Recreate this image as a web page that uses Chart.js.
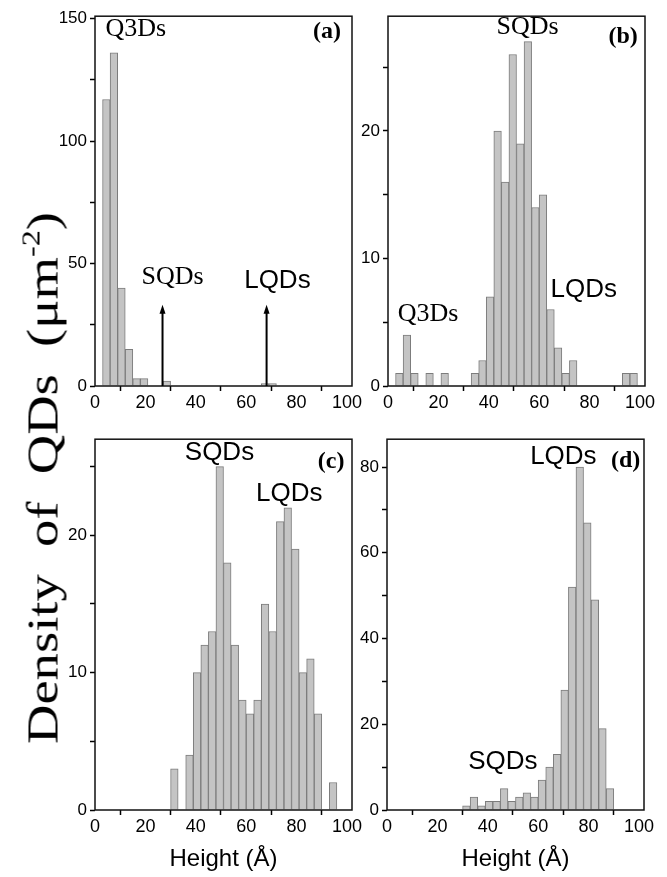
<!DOCTYPE html>
<html><head><meta charset="utf-8">
<script src="https://cdn.jsdelivr.net/npm/chart.js@4.4.0/dist/chart.umd.min.js"></script>
<style>
html,body{margin:0;padding:0;background:#fff;width:667px;height:877px;overflow:hidden;position:relative}
canvas{position:absolute}
#ytitle{position:absolute;left:43px;top:478px;transform:translate(-50%,-50%) rotate(-90deg) scaleX(1.24);white-space:nowrap;font-family:'Liberation Serif',serif;font-size:44px;color:#000;word-spacing:11px}
#ytitle sup{font-size:26px;vertical-align:0;position:relative;top:-18px}
</style></head><body>
<canvas id="ca" width="322" height="413" style="left:50px;top:3px"></canvas>
<canvas id="cb" width="322" height="413" style="left:343px;top:3px"></canvas>
<canvas id="cc" width="322" height="452" style="left:50px;top:426px"></canvas>
<canvas id="cd" width="322" height="452" style="left:342px;top:426px"></canvas>
<div id="ytitle">Density of QDs (μm<sup>-2</sup>)</div>
<script>
// ---- data (bin left edges in Å, bin width 3 Å) ----
const binWidth = 3;
const binsA = [3, 6, 9, 12, 15, 18, 27, 66, 69];
const countsA = [117, 136, 40, 15, 3, 3, 2, 1, 1];
const binsB = [3, 6, 9, 15, 21, 33, 36, 39, 42, 45, 48, 51, 54, 57, 60, 63, 66, 69, 72, 93, 96];
const countsB = [1, 4, 1, 1, 1, 1, 2, 7, 20, 16, 26, 19, 27, 14, 15, 6, 3, 1, 2, 1, 1];
const binsC = [30, 36, 39, 42, 45, 48, 51, 54, 57, 60, 63, 66, 69, 72, 75, 78, 81, 84, 87, 93];
const countsC = [3, 4, 10, 12, 13, 25, 18, 12, 8, 7, 8, 15, 13, 21, 22, 19, 10, 11, 7, 2];
const binsD = [30, 33, 36, 39, 42, 45, 48, 51, 54, 57, 60, 63, 66, 69, 72, 75, 78, 81, 84, 87];
const countsD = [1, 3, 1, 2, 2, 5, 2, 3, 4, 3, 7, 10, 13, 28, 52, 80, 67, 49, 19, 5];
const xTickLabels = [0, 20, 40, 60, 80, 100];
const xTickMarks = [10, 30, 50, 70, 90];
const yMajorA = [0, 50, 100, 150];
const yMajorB = [0, 10, 20];
const yMajorC = [0, 10, 20];
const yMajorD = [0, 20, 40, 60, 80];
const xTitle = 'Height (Å)';

const SERIF = "'Liberation Serif', 'Times New Roman', serif";
const SANS = "'Liberation Sans', Arial, sans-serif";

const decor = {
  id: 'decor',
  afterDatasetsDraw(chart, args, opts) {
    const {ctx, chartArea: a, scales: {x, y}} = chart;
    ctx.save();
    ctx.strokeStyle = '#111';
    ctx.lineWidth = 1.5;
    ctx.strokeRect(a.left, a.top, a.right - a.left, a.bottom - a.top);
    (opts.arrows || []).forEach(ar => {
      const px = x.getPixelForValue(ar.x);
      const y0 = y.getPixelForValue(ar.from);
      const y1 = y.getPixelForValue(ar.to);
      ctx.strokeStyle = '#000'; ctx.lineWidth = 2;
      ctx.beginPath(); ctx.moveTo(px, y0); ctx.lineTo(px, y1 + 7); ctx.stroke();
      ctx.fillStyle = '#000';
      ctx.beginPath(); ctx.moveTo(px, y1); ctx.lineTo(px - 3, y1 + 9); ctx.lineTo(px + 3, y1 + 9); ctx.closePath(); ctx.fill();
    });
    (opts.labels || []).forEach(l => {
      ctx.font = l.font; ctx.fillStyle = '#000';
      ctx.textAlign = 'center'; ctx.textBaseline = 'alphabetic';
      ctx.fillText(l.text, x.getPixelForValue(l.x), y.getPixelForValue(l.y));
    });
    ctx.restore();
  }
};

const serifF = '26px ' + SERIF;
const sansF = '26px ' + SANS;
const boldF = 'bold 24px ' + SERIF;

const panels = [
  {id: 'ca', bins: binsA, counts: countsA, yMax: 151, yStep: 25, major: yMajorA, bottom: false,
   labels: [
     {text: 'Q3Ds', x: 16.2, y: 142.9, font: serifF},
     {text: '(a)', x: 92.1, y: 142, font: boldF},
     {text: 'SQDs', x: 30.8, y: 41.8, font: serifF},
     {text: 'LQDs', x: 72.4, y: 40, font: sansF}],
   arrows: [{x: 26.8, from: 0, to: 33.2}, {x: 68.1, from: 0, to: 33.2}]},
  {id: 'cb', bins: binsB, counts: countsB, yMax: 29, yStep: 5, major: yMajorB, bottom: false,
   labels: [
     {text: 'SQDs', x: 55.4, y: 27.6, font: serifF},
     {text: '(b)', x: 93.3, y: 26.9, font: boldF},
     {text: 'Q3Ds', x: 15.9, y: 5.1, font: serifF},
     {text: 'LQDs', x: 77.7, y: 7.0, font: sansF}]},
  {id: 'cc', bins: binsC, counts: countsC, yMax: 27, yStep: 5, major: yMajorC, bottom: true,
   labels: [
     {text: 'SQDs', x: 49.4, y: 25.5, font: sansF},
     {text: 'LQDs', x: 77.1, y: 22.5, font: sansF},
     {text: '(c)', x: 93.7, y: 24.9, font: boldF}]},
  {id: 'cd', bins: binsD, counts: countsD, yMax: 86.5, yStep: 10, major: yMajorD, bottom: true,
   labels: [
     {text: 'LQDs', x: 70, y: 80.6, font: sansF},
     {text: '(d)', x: 94.7, y: 79.9, font: boldF},
     {text: 'SQDs', x: 46, y: 9.6, font: sansF}]}
];

panels.forEach(p => {
  const data = p.bins.map((b, i) => ({x: b + binWidth / 2, y: p.counts[i]}));
  new Chart(document.getElementById(p.id), {
    type: 'bar',
    data: {datasets: [{data, backgroundColor: '#c4c4c4', borderColor: '#7c7c7c', borderWidth: 1,
      categoryPercentage: 1, barPercentage: 1}]},
    plugins: [decor],
    options: {
      responsive: false, animation: false, devicePixelRatio: 1,
      layout: {padding: {top: 10, right: 20, left: 0, bottom: 0}},
      plugins: {legend: {display: false}, tooltip: {enabled: false}, decor: {labels: p.labels, arrows: p.arrows || []}},
      scales: {
        x: {type: 'linear', min: 0, max: 102, offset: false,
          afterFit: s => { s.height = p.bottom ? 68 : 30; },
          grid: {offset: false, drawOnChartArea: false, drawTicks: true, tickLength: 5, tickWidth: 1.5,
            tickColor: c => (c.tick && xTickMarks.includes(c.tick.value)) ? '#000' : 'rgba(0,0,0,0)'},
          border: {display: false},
          ticks: {stepSize: 10, includeBounds: false, autoSkip: false, maxRotation: 0, padding: 1,
            color: '#000', font: {family: SANS, size: 18},
            callback: v => xTickLabels.includes(v) ? String(v) : ''},
          title: {display: p.bottom, text: xTitle, color: '#000', font: {family: SANS, size: 24}, padding: {top: 0, bottom: 4}}
        },
        y: {min: 0, max: p.yMax,
          afterFit: s => { s.width = 45; },
          grid: {drawOnChartArea: false, drawTicks: true, tickLength: 5, tickWidth: 1.5, tickColor: '#000'},
          border: {display: false},
          ticks: {stepSize: p.yStep, includeBounds: false, autoSkip: false, padding: 3,
            color: '#000', font: {family: SANS, size: 17},
            callback: v => p.major.includes(v) ? String(v) : ''}
        }
      }
    }
  });
});
</script>
</body></html>
